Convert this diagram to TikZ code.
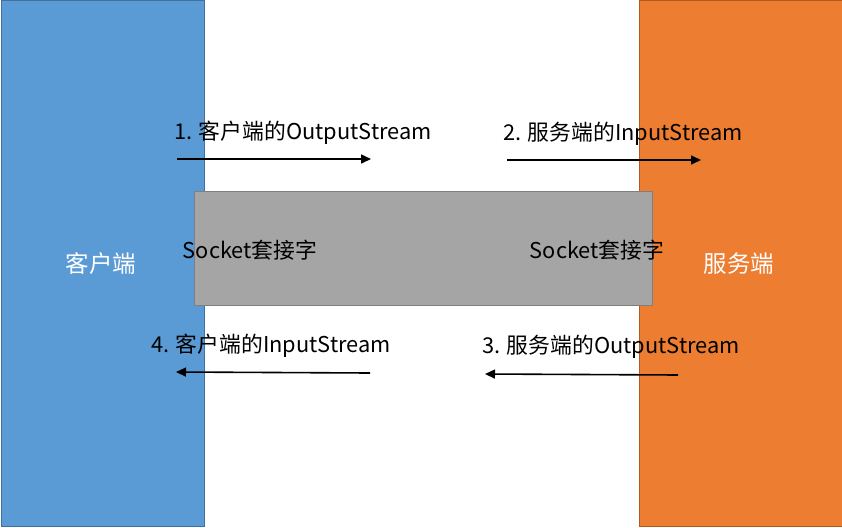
\documentclass[tikz,border=0pt]{standalone}
\usepackage{fontspec}
\setmainfont{Noto Sans CJK SC}
\usetikzlibrary{arrows.meta}
\definecolor{cblue}{HTML}{5B9BD5}
\definecolor{cblueb}{HTML}{41719C}
\definecolor{corange}{HTML}{ED7D31}
\definecolor{coranb}{HTML}{AE5A21}
\definecolor{cgray}{HTML}{A5A5A5}
\definecolor{cgrayb}{HTML}{7F7F7F}
\begin{document}
\begin{tikzpicture}[x=1pt,y=-1pt,
  lbl/.style={font=\fontsize{21.8}{25}\selectfont, text=black, inner sep=0pt, anchor=base west},
  side/.style={font=\fontsize{23.5}{27}\selectfont, text=white, inner sep=0pt},
  flow/.style={draw=black, line width=1.6pt, -{Triangle[length=10pt,width=9pt]}}]
\useasboundingbox (0,0) rectangle (842,527);
\fill[white] (0,0) rectangle (842,527);
\node[draw=cblueb, fill=cblue, line width=0.8pt, minimum width=203pt, minimum height=525pt, anchor=north west, inner sep=0pt] (client) at (0.5,0.5) {};
\node[draw=coranb, fill=corange, line width=0.8pt, minimum width=203pt, minimum height=525pt, anchor=north west, inner sep=0pt] (server) at (638.5,0.5) {};
\node[draw=cgrayb, fill=cgray, line width=0.8pt, minimum width=458pt, minimum height=114pt, anchor=north west, inner sep=0pt] (socket) at (194,191) {};
\node[side] (clabel) at (101,264) {客户端};
\node[side] (slabel) at (739,264) {服务端};
\node[lbl, anchor=center] (sock1) at (250,250) {Socket套接字};
\node[lbl, anchor=center] (sock2) at (597,250) {Socket套接字};
\node[lbl] (t1) at (174,139) {1. 客户端的OutputStream};
\node[lbl] (t2) at (503,140) {2. 服务端的InputStream};
\node[lbl] (t4) at (151,352) {4. 客户端的InputStream};
\node[lbl] (t3) at (482,353) {3. 服务端的OutputStream};
\coordinate (a1s) at (177,159); \coordinate (a1e) at (371,159);
\coordinate (a2s) at (507,160); \coordinate (a2e) at (701,160);
\coordinate (a4s) at (370,373); \coordinate (a4e) at (176,372);
\coordinate (a3s) at (678,375); \coordinate (a3e) at (485,374);
\draw[flow] (a1s) -- (a1e);
\draw[flow] (a2s) -- (a2e);
\draw[flow] (a4s) -- (a4e);
\draw[flow] (a3s) -- (a3e);
\end{tikzpicture}
\end{document}
